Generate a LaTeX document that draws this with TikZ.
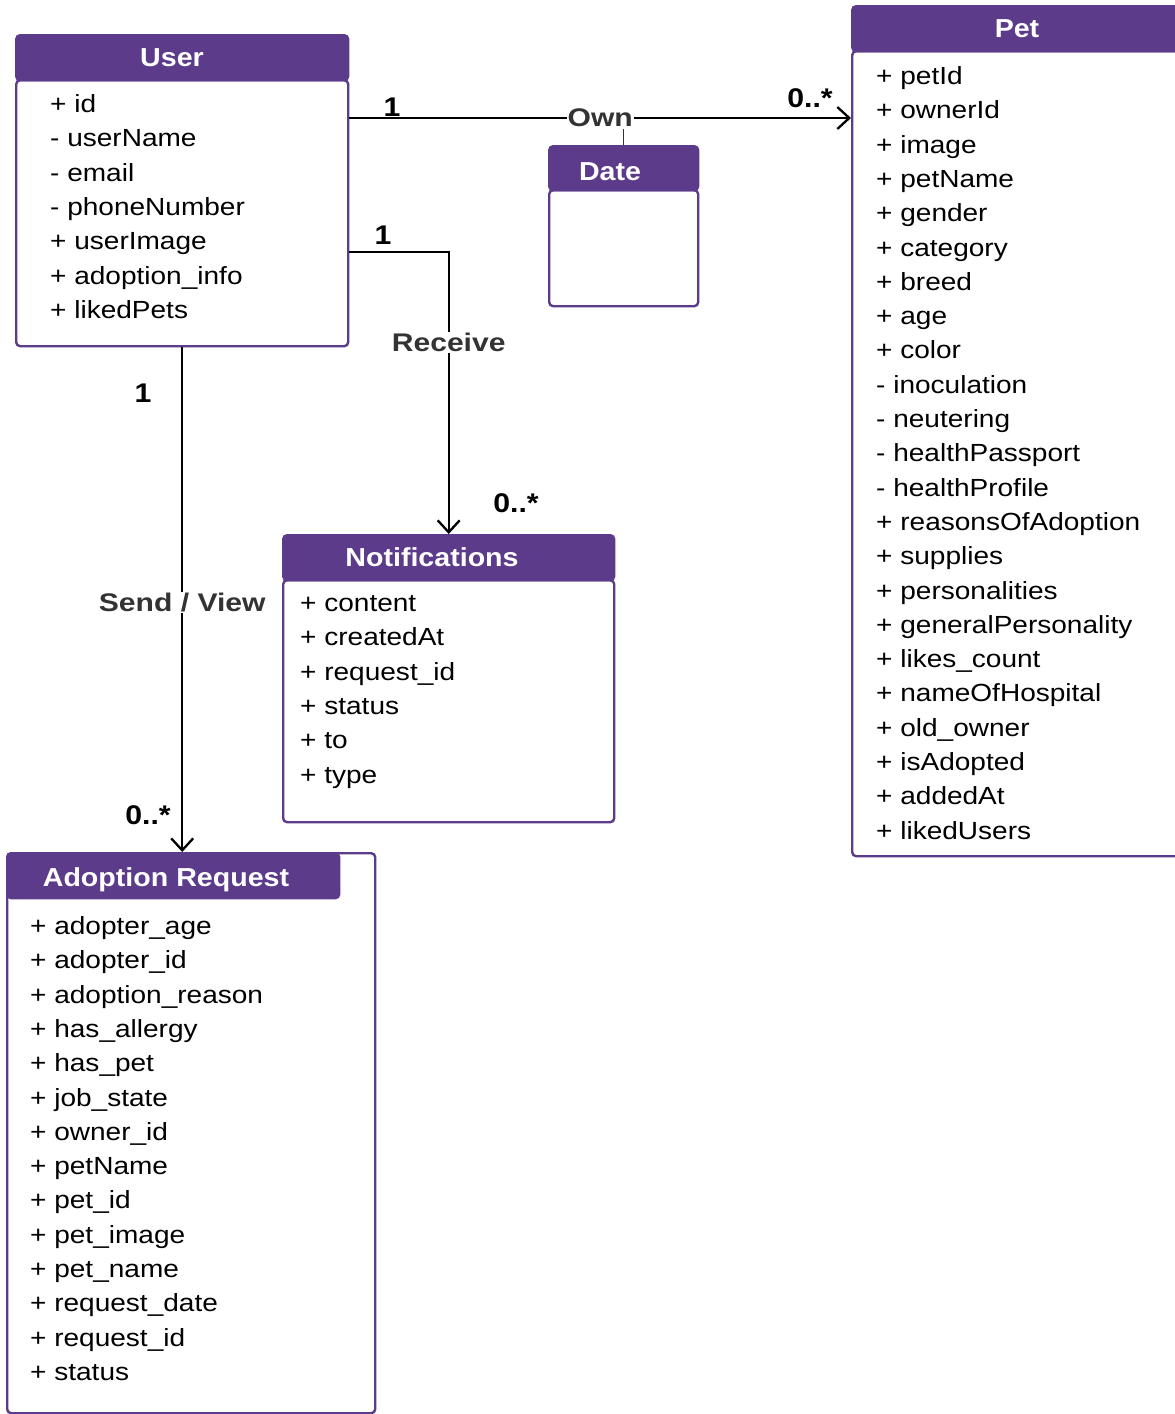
\documentclass[tikz,border=0pt]{standalone}
\usepackage{fontspec}
\setmainfont{Liberation Sans}
\newfontfamily\attrfont[FakeStretch=1.13]{Liberation Sans}
\newfontfamily\headfont[FakeStretch=1.1]{Liberation Sans}
\newfontfamily\lblfont[FakeStretch=1.18]{Liberation Sans}
\newfontfamily\multfont[FakeStretch=1.12]{Liberation Sans}
\usetikzlibrary{arrows.meta,calc}
\definecolor{umlpurple}{HTML}{5C3B8A}
\definecolor{lblgray}{HTML}{333333}
\begin{document}
\begin{tikzpicture}[x=1pt,y=-1pt,
  classbody/.style={draw=umlpurple, line width=2.4pt, fill=white, rounded corners=4pt, inner sep=0pt, anchor=north west},
  classhead/.style={draw=umlpurple, line width=2.4pt, fill=umlpurple, rounded corners=4pt, inner sep=0pt, anchor=north west},
  headtext/.style={text=white, font=\headfont\bfseries\fontsize{26}{30}\selectfont, anchor=base, inner sep=0pt},
  attr/.style={font=\attrfont\fontsize{24.8}{30}\selectfont, anchor=base west, inner sep=0pt},
  assoc/.style={line width=2.3pt, -{Straight Barb[length=12pt,width=22pt,line width=2.3pt]}},
  lbl/.style={font=\lblfont\bfseries\fontsize{25.5}{30}\selectfont, text=lblgray, fill=white, inner sep=1pt},
  mult/.style={font=\multfont\bfseries\fontsize{27}{30}\selectfont, inner sep=0pt}
]
\useasboundingbox (0,0) rectangle (1175,1414);

% ---------- User ----------
\node[classbody, minimum width=332pt, minimum height=266pt] (user) at (15,79) {};
\node[classhead, minimum width=332pt, minimum height=45pt] (userhead) at (15,34) {};
\node[headtext] (usertitle) at (172,66.5) {User};
\foreach \t [count=\i from 0] in {+ id, - userName, - email, - phoneNumber, + userImage, + adoption\_info, + likedPets}
  \node[attr] (userattr\i) at (50,{112.5+34.3*\i}) {\t};

% ---------- Pet ----------
\node[classbody, minimum width=340pt, minimum height=805pt] (pet) at (851,50) {};
\node[classhead, minimum width=340pt, minimum height=45pt] (pethead) at (851,5) {};
\node[headtext] (pettitle) at (1017,37) {Pet};
\foreach \t [count=\i from 0] in {+ petId, + ownerId, + image, + petName, + gender, + category, + breed, + age, + color, - inoculation, - neutering, - healthPassport, - healthProfile, + reasonsOfAdoption, + supplies, + personalities, + generalPersonality, + likes\_count, + nameOfHospital, + old\_owner, + isAdopted, + addedAt, + likedUsers}
  \node[attr] (petattr\i) at (876,{84.5+34.3*\i}) {\t};

% ---------- Date ----------
\node[classbody, minimum width=149pt, minimum height=116pt] (date) at (548,189) {};
\node[classhead, minimum width=149pt, minimum height=44pt] (datehead) at (548,145) {};
\node[headtext] (datetitle) at (610,180.5) {Date};

% ---------- Notifications ----------
\node[classbody, minimum width=331pt, minimum height=242pt] (notif) at (282,579) {};
\node[classhead, minimum width=331pt, minimum height=45pt] (notifhead) at (282,534) {};
\node[headtext] (notiftitle) at (432,566) {Notifications};
\foreach \t [count=\i from 0] in {+ content, + createdAt, + request\_id, + status, + to, + type}
  \node[attr] (notifattr\i) at (300,{611.5+34.3*\i}) {\t};

% ---------- Adoption Request ----------
\node[classbody, minimum width=368pt, minimum height=560pt] (adopt) at (6,852) {};
\node[classhead, minimum width=332pt, minimum height=45pt] (adopthead) at (6,852) {};
\node[headtext] (adopttitle) at (166,886.5) {Adoption Request};
\foreach \t [count=\i from 0] in {+ adopter\_age, + adopter\_id, + adoption\_reason, + has\_allergy, + has\_pet, + job\_state, + owner\_id, + petName, + pet\_id, + pet\_image, + pet\_name, + request\_date, + request\_id, + status}
  \node[attr] (adoptattr\i) at (30,{934.5+34.3*\i}) {\t};

% ---------- Connectors ----------
\coordinate (ownS) at ($(user.north east)+(0,39)$);
\draw[assoc] (ownS) -- (ownS -| pet.west) node[midway, lbl] (ownlbl) {Own};
\draw[line width=1.5pt, lblgray] (ownlbl.south -| datehead.north) -- (datehead.north);
\node[mult] (own1) at (392,107) {1};
\node[mult] (ownN) at (810,98) {0..*};

\coordinate (recvS) at ($(user.north east)+(0,173)$);
\draw[assoc] (recvS) -| (notifhead.north) node[pos=0.66, lbl] (recvlbl) {Receive};
\node[mult] (recv1) at (383,235) {1};
\node[mult] (recvN) at (516,503) {0..*};

\draw[assoc] (user.south) -- (user.south |- adopthead.north) node[pos=0.505, lbl] (sendlbl) {Send / View};
\node[mult] (send1) at (143,393) {1};
\node[mult] (sendN) at (148,815) {0..*};
\end{tikzpicture}
\end{document}
